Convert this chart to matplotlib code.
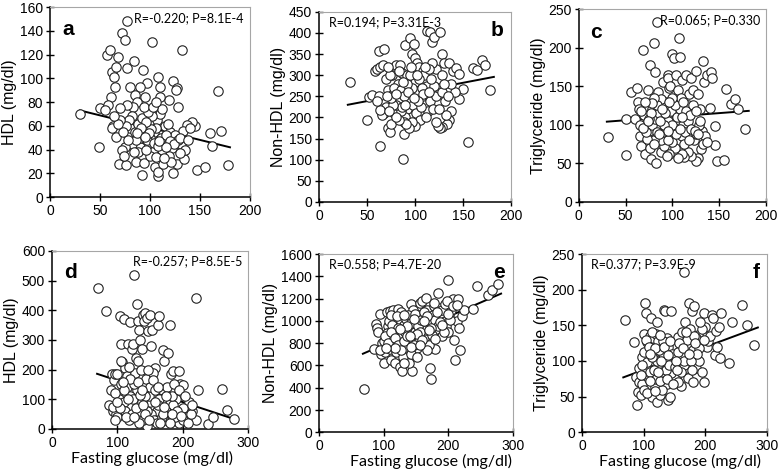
import numpy as np
import matplotlib
matplotlib.use("Agg")
import matplotlib.pyplot as plt

plt.rcParams['font.family'] = ['Liberation Sans', 'DejaVu Sans']

# ---- panel a : HDL vs fasting glucose (top row)
a_x = [30, 49, 50, 57, 60, 61, 62, 64, 65, 66, 68, 72, 75, 77, 77, 84, 93, 97, 102, 108,
       132, 168, 171, 178, 160, 162, 147, 155, 145, 142, 137, 123, 127, 128, 126, 119, 110, 110, 95, 90,
       80, 85, 87, 83, 77, 70, 58, 55, 63, 62, 66, 69, 76, 86, 92, 94, 105, 108, 108, 113,
       123, 127, 134, 131, 133, 135, 122, 119, 115, 112, 103, 98, 90, 82, 75, 72, 74, 78, 80, 85,
       88, 92, 95, 100, 104, 107, 110, 112, 115, 120, 118, 125, 128, 100, 97, 93, 90, 86, 82, 79,
       76, 73, 70, 68, 64, 100, 104, 108, 111, 116, 120, 124, 130, 106, 102, 98, 94, 103, 106, 88,
       84, 96, 106, 116, 121, 101, 96, 91, 87, 78, 140, 138, 130, 114, 109, 99, 95]
a_y = [70, 42, 75, 120, 124, 84, 105, 101, 93, 110, 118, 138, 132, 148, 109, 115, 107, 96, 131, 101,
       124, 89, 56, 27, 54, 43, 23, 25, 60, 63, 61, 98, 92, 76, 90, 82, 93, 84, 84, 93,
       93, 86, 80, 76, 78, 75, 78, 73, 60, 58, 51, 28, 27, 30, 19, 29, 25, 18, 21, 28,
       20, 28, 32, 45, 56, 40, 41, 35, 48, 40, 40, 45, 42, 45, 42, 40, 35, 52, 58, 55,
       62, 67, 58, 62, 55, 65, 70, 74, 60, 55, 62, 52, 48, 50, 48, 53, 50, 48, 68, 65,
       60, 55, 65, 62, 68, 35, 46, 43, 50, 52, 47, 45, 50, 58, 68, 72, 76, 76, 80, 38,
       38, 40, 34, 42, 30, 57, 63, 58, 54, 48, 58, 48, 37, 33, 47, 54, 51]
a_fit_x = [30, 180]
a_fit_y = [73, 42]

# ---- panel b : Non-HDL vs fasting glucose (top row)
b_x = [32, 50, 52, 55, 58, 60, 62, 64, 64, 66, 67, 68, 70, 72, 72, 74, 75, 77, 78, 80,
       82, 84, 86, 88, 87, 90, 92, 95, 97, 99, 100, 102, 104, 108, 112, 116, 118, 120, 126, 128,
       130, 135, 140, 143, 146, 150, 146, 142, 137, 135, 133, 128, 126, 124, 155, 160, 164, 170, 173, 178,
       122, 118, 115, 112, 109, 106, 103, 100, 97, 94, 92, 90, 88, 85, 82, 80, 78, 76, 74, 72,
       70, 68, 66, 64, 62, 60, 85, 88, 92, 95, 98, 101, 104, 107, 110, 113, 116, 119, 122, 125,
       128, 131, 134, 137, 132, 120, 117, 114, 110, 105, 100, 97, 94, 91, 86, 83, 80, 77, 75, 73,
       71, 80, 93, 96, 102, 108, 111, 125, 128, 130, 122, 115, 106, 103, 99, 90, 87, 83]
b_y = [283, 195, 248, 252, 310, 315, 358, 320, 132, 210, 325, 362, 290, 265, 175, 165, 185, 255, 210, 325,
       280, 325, 305, 160, 102, 372, 300, 388, 350, 373, 340, 330, 320, 310, 405, 402, 378, 390, 403, 350,
       330, 330, 310, 318, 302, 268, 244, 260, 215, 195, 185, 178, 175, 180, 143, 318, 312, 337, 323, 265,
       315, 330, 255, 275, 300, 240, 260, 285, 270, 245, 220, 200, 190, 215, 240, 230, 270, 300, 300, 320,
       225, 210, 205, 218, 250, 240, 265, 250, 280, 300, 230, 210, 290, 270, 230, 215, 240, 220, 250, 270,
       260, 240, 250, 280, 205, 275, 290, 315, 320, 195, 180, 190, 175, 185, 225, 195, 200, 230, 245, 215,
       250, 255, 260, 320, 300, 255, 200, 220, 300, 280, 190, 260, 225, 240, 245, 230, 285, 310]
b_fit_x = [30, 182]
b_fit_y = [230, 296]

# ---- panel c : Triglyceride vs fasting glucose (top row)
c_x = [31, 50, 51, 56, 60, 62, 63, 64, 66, 67, 69, 70, 71, 74, 75, 76, 77, 78, 80, 82,
       83, 84, 85, 87, 88, 90, 92, 94, 95, 96, 97, 98, 100, 102, 104, 105, 107, 108, 110, 112,
       115, 117, 118, 120, 122, 125, 128, 130, 133, 134, 137, 140, 142, 143, 146, 146, 148, 155, 158, 163,
       167, 170, 178, 132, 135, 131, 128, 125, 120, 117, 113, 110, 106, 103, 100, 97, 94, 91, 88, 85,
       80, 76, 73, 70, 67, 65, 78, 82, 86, 90, 93, 96, 99, 102, 105, 108, 111, 114, 117, 120,
       123, 126, 129, 133, 137, 95, 92, 88, 84, 81, 78, 75, 72, 69, 100, 103, 106, 109, 112, 115,
       119, 122, 126, 130, 100, 97, 91, 87, 84, 81, 77, 74, 71, 104, 108, 113, 118, 124, 128, 110,
       96, 89, 86]
c_y = [84, 61, 107, 142, 108, 148, 130, 120, 85, 72, 197, 100, 62, 145, 92, 178, 55, 120, 206, 168,
       50, 233, 143, 128, 65, 155, 130, 110, 165, 160, 148, 150, 192, 187, 165, 130, 212, 188, 158, 100,
       165, 125, 140, 160, 145, 170, 140, 120, 183, 155, 165, 122, 168, 160, 99, 74, 53, 54, 146, 127,
       133, 120, 95, 92, 85, 68, 57, 53, 60, 65, 58, 62, 57, 70, 78, 62, 60, 72, 80, 95,
       80, 70, 82, 112, 118, 100, 100, 108, 115, 90, 95, 105, 118, 96, 110, 120, 85, 90, 105, 95,
       80, 88, 100, 75, 78, 80, 115, 133, 125, 135, 128, 108, 90, 96, 100, 125, 145, 135, 130, 118,
       112, 125, 118, 105, 135, 130, 100, 105, 90, 75, 115, 105, 130, 88, 95, 75, 80, 92, 88, 110,
       92, 120, 88]
c_fit_x = [30, 182]
c_fit_y = [104, 118]

# ---- panel d : HDL vs fasting glucose (bottom row)
d_x = [70, 83, 88, 90, 92, 94, 95, 96, 98, 100, 102, 104, 105, 107, 110, 112, 115, 117, 120, 122,
       124, 126, 128, 130, 131, 133, 135, 137, 139, 141, 143, 145, 147, 150, 152, 153, 158, 162, 164, 170,
       171, 178, 180, 182, 185, 195, 196, 200, 210, 220, 224, 238, 246, 260, 268, 278, 220, 215, 205, 200,
       195, 190, 185, 180, 175, 172, 168, 165, 160, 155, 150, 145, 140, 135, 130, 125, 120, 115, 110, 105,
       100, 97, 93, 106, 112, 118, 122, 127, 132, 136, 140, 144, 148, 152, 156, 160, 164, 168, 176, 184,
       188, 192, 200, 208, 212, 118, 124, 128, 133, 138, 142, 146, 150, 154, 158, 162, 170, 180, 110, 104,
       99, 96, 114, 120, 126, 134, 140, 147, 155, 165, 175, 186, 194, 204, 214, 108, 116, 131, 137, 143,
       149, 157, 163, 172, 183, 197]
d_y = [476, 398, 80, 130, 185, 60, 165, 185, 50, 185, 100, 380, 285, 225, 370, 205, 140, 285, 360, 270,
       285, 520, 240, 420, 365, 335, 300, 270, 385, 365, 390, 375, 330, 385, 280, 335, 205, 350, 380, 265,
       230, 255, 350, 185, 195, 195, 150, 148, 90, 440, 130, 17, 40, 135, 65, 32, 30, 60, 40, 70,
       20, 100, 80, 130, 60, 30, 100, 75, 60, 120, 90, 10, 30, 60, 130, 150, 110, 180, 90, 150,
       40, 120, 75, 230, 60, 30, 50, 190, 230, 200, 150, 170, 110, 50, 30, 20, 100, 40, 140, 110,
       40, 60, 30, 20, 50, 210, 100, 70, 20, 90, 110, 60, 140, 190, 130, 80, 50, 20, 130, 70,
       90, 30, 40, 170, 40, 115, 80, 200, 165, 20, 110, 150, 130, 110, 80, 160, 100, 160, 130, 50,
       30, 90, 140, 75, 50, 45]
d_fit_x = [69, 278]
d_fit_y = [186, 34]

# ---- panel e : Non-HDL vs fasting glucose (bottom row)
e_x = [70, 85, 88, 90, 92, 95, 96, 98, 100, 103, 105, 107, 110, 112, 115, 117, 119, 121, 123, 125,
       127, 129, 131, 133, 135, 137, 140, 142, 144, 146, 148, 150, 152, 155, 157, 160, 162, 165, 167, 170,
       172, 174, 176, 178, 180, 182, 185, 187, 190, 192, 195, 197, 200, 202, 205, 207, 209, 211, 213, 215,
       217, 219, 222, 225, 238, 245, 262, 268, 278, 100, 105, 110, 115, 120, 125, 130, 135, 140, 145, 150,
       155, 160, 165, 170, 175, 180, 185, 190, 195, 200, 108, 113, 118, 123, 128, 133, 138, 143, 148, 153,
       158, 163, 168, 173, 178, 183, 188, 193, 198, 203, 208, 213, 95, 102, 107, 112, 117, 122, 127, 132,
       137, 142, 147, 152, 157, 162, 167, 112, 127, 137, 147, 117, 132, 142, 152, 160, 104, 121, 126, 131,
       141, 156, 170, 180, 190, 200]
e_y = [385, 750, 975, 940, 900, 1060, 700, 800, 620, 720, 1080, 950, 1090, 650, 1100, 620, 1025, 880, 1110, 590,
       1000, 550, 960, 860, 1015, 700, 930, 1150, 550, 1100, 900, 1000, 760, 1050, 1160, 1180, 850, 1210, 1100, 1000,
       580, 480, 1050, 1130, 750, 930, 1250, 1120, 860, 1050, 1000, 950, 1370, 1050, 1100, 1200, 830, 650, 1000, 1200,
       940, 740, 1040, 1100, 1110, 1310, 1230, 1280, 1330, 820, 890, 750, 830, 720, 800, 680, 770, 620, 840, 870,
       820, 950, 920, 780, 870, 1010, 950, 1100, 1150, 900, 1000, 960, 900, 940, 870, 900, 1050, 980, 1060, 950,
       1010, 1080, 1040, 940, 1160, 1080, 990, 900, 1180, 1010, 1130, 1140, 740, 860, 800, 900, 850, 780, 740, 820,
       860, 700, 780, 680, 900, 1000, 740, 1050, 1080, 950, 1020, 760, 620, 770, 880, 830, 760, 1040, 930, 1050,
       860, 780, 920, 840, 960, 1060]
e_fit_x = [68, 282]
e_fit_y = [705, 1245]

# ---- panel f : Triglyceride vs fasting glucose (bottom row)
f_x = [70, 85, 88, 90, 91, 92, 93, 95, 97, 98, 100, 102, 103, 104, 106, 107, 108, 110, 112, 114,
       115, 117, 118, 120, 121, 122, 123, 125, 127, 130, 132, 133, 135, 137, 138, 140, 142, 143, 145, 147,
       150, 152, 155, 157, 160, 162, 165, 167, 170, 172, 173, 175, 178, 180, 182, 184, 185, 188, 190, 192,
       195, 197, 198, 200, 202, 205, 207, 210, 212, 215, 217, 219, 222, 224, 225, 238, 243, 260, 268, 278,
       100, 105, 110, 115, 120, 125, 130, 135, 140, 145, 150, 155, 160, 165, 170, 175, 180, 185, 190, 195,
       96, 101, 106, 111, 116, 121, 126, 131, 136, 141, 146, 151, 156, 161, 166, 171, 176, 181, 186, 192,
       103, 108, 113, 118, 123, 128, 133, 138, 143, 148, 153, 158, 163, 168, 173, 178, 183, 197, 113, 127,
       140, 154, 118, 110, 98]
f_y = [157, 126, 78, 38, 56, 90, 70, 52, 106, 68, 138, 182, 167, 90, 126, 115, 75, 135, 160, 50,
       132, 100, 63, 138, 42, 155, 128, 95, 52, 85, 110, 172, 170, 68, 132, 45, 108, 50, 170, 100,
       120, 76, 133, 90, 65, 140, 225, 155, 90, 76, 182, 145, 170, 70, 177, 126, 90, 137, 100, 122,
       85, 70, 168, 148, 120, 128, 135, 165, 160, 108, 142, 120, 148, 104, 168, 97, 155, 178, 150, 123,
       112, 98, 85, 110, 75, 115, 60, 98, 120, 83, 105, 70, 110, 95, 120, 105, 115, 132, 118, 145,
       80, 60, 55, 72, 88, 100, 72, 128, 88, 95, 110, 92, 112, 85, 100, 130, 100, 135, 110, 155,
       130, 120, 105, 118, 85, 100, 120, 75, 128, 68, 100, 125, 118, 140, 110, 88, 125, 130, 140, 137,
       108, 88, 58, 110, 95]
f_fit_x = [67, 285]
f_fit_y = [77, 147]

panels = [
    dict(x=a_x, y=a_y, fx=a_fit_x, fy=a_fit_y, xlim=200, xt=[0, 50, 100, 150, 200],
         ylim=160, yt=range(0, 161, 20), ylab='HDL (mg/dl)', tag='a',
         stat='R=-0.220; P=8.1E-4', stat_left=False,
         pos=[0.0643, 0.584, 0.257, 0.401]),
    dict(x=b_x, y=b_y, fx=b_fit_x, fy=b_fit_y, xlim=200, xt=[0, 50, 100, 150, 200],
         ylim=450, yt=range(0, 451, 50), ylab='Non-HDL (mg/dl)', tag='b',
         stat='R=0.194; P=3.31E-3', stat_left=True,
         pos=[0.410, 0.574, 0.247, 0.401]),
    dict(x=c_x, y=c_y, fx=c_fit_x, fy=c_fit_y, xlim=200, xt=[0, 50, 100, 150, 200],
         ylim=250, yt=range(0, 251, 50), ylab='Triglyceride (mg/dl)', tag='c',
         stat='R=0.065; P=0.330', stat_left=False,
         pos=[0.744, 0.574, 0.240, 0.407]),
    dict(x=d_x, y=d_y, fx=d_fit_x, fy=d_fit_y, xlim=300, xt=[0, 100, 200, 300],
         ylim=600, yt=range(0, 601, 100), ylab='HDL (mg/dl)', tag='d',
         stat='R=-0.257; P=8.5E-5', stat_left=False, xl_at=(0.51, -0.125),
         pos=[0.0668, 0.095, 0.252, 0.3755]),
    dict(x=e_x, y=e_y, fx=e_fit_x, fy=e_fit_y, xlim=300, xt=[0, 100, 200, 300],
         ylim=1600, yt=range(0, 1601, 200), ylab='Non-HDL (mg/dl)', tag='e',
         stat='R=0.558; P=4.7E-20', stat_left=True, xl_at=(0.58, -0.12),
         pos=[0.410, 0.088, 0.249, 0.376]),
    dict(x=f_x, y=f_y, fx=f_fit_x, fy=f_fit_y, xlim=300, xt=[0, 100, 200, 300],
         ylim=250, yt=range(0, 251, 50), ylab='Triglyceride (mg/dl)', tag='f',
         stat='R=0.377; P=3.9E-9', stat_left=True, xl_at=(0.53, -0.12),
         pos=[0.748, 0.088, 0.238, 0.376]),
]

fig = plt.figure(figsize=(7.78, 4.74), dpi=100)

for i, p in enumerate(panels):
    ax = fig.add_axes(p['pos'])
    ax.plot(p['fx'], p['fy'], color='black', lw=1.4, zorder=2)
    ax.scatter(p['x'], p['y'], s=46, facecolor='white', edgecolor='#222222',
               linewidths=0.8, zorder=3)
    ax.set_xlim(0, p['xlim'])
    ax.set_ylim(0, p['ylim'])
    ax.set_xticks(p['xt'])
    ax.set_yticks(list(p['yt']))
    ax.tick_params(direction='inout', length=6, width=1, labelsize=10, pad=2)
    for s in ['top', 'right']:
        ax.spines[s].set_color('#a6a6a6')
    for s in ['left', 'bottom']:
        ax.spines[s].set_color('black')
        ax.spines[s].set_linewidth(1.1)
    ax.set_ylabel(p['ylab'], fontsize=11.5, labelpad=2)
    if i >= 3:
        ax.set_xlabel('Fasting glucose (mg/dl)', fontsize=11.5, family=['Lato', 'DejaVu Sans'])
        ax.xaxis.set_label_coords(*p['xl_at'])
    if p['stat_left']:
        ax.text(0.05, 0.975, p['stat'], transform=ax.transAxes, ha='left', va='top',
                fontsize=9, family=['Lato', 'DejaVu Sans'])
        ax.text(0.96, 0.95, p['tag'], transform=ax.transAxes, ha='right', va='top',
                fontsize=15, fontweight='bold')
    else:
        ax.text(0.97, 0.975, p['stat'], transform=ax.transAxes, ha='right', va='top',
                fontsize=9, family=['Lato', 'DejaVu Sans'])
        ax.text(0.06, 0.93, p['tag'], transform=ax.transAxes, ha='left', va='top',
                fontsize=15, fontweight='bold')

fig.savefig('out.png', dpi=100)
